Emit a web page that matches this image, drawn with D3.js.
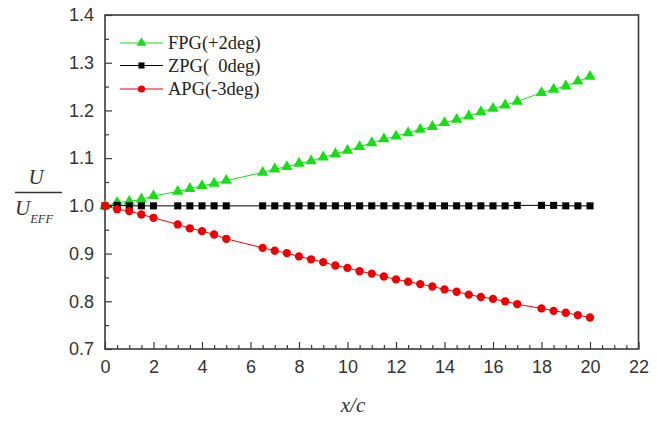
<!DOCTYPE html>
<html>
<head>
<meta charset="utf-8">
<script src="https://cdn.jsdelivr.net/npm/d3@7"></script>
<style>
  html, body { margin: 0; padding: 0; background: #fff; }
  svg { display: block; }
</style>
</head>
<body>
<svg id="chart" width="657" height="421"></svg>
<script>
// ---- data ----
const xValues = [0,0.5,1,1.5,2,3,3.5,4,4.5,5,6.5,7,7.5,8,8.5,9,9.5,10,10.5,11,11.5,12,12.5,13,13.5,14,14.5,15,15.5,16,16.5,17,18,18.5,19,19.5,20];
const fpgValues = [1.000,1.007,1.009,1.014,1.021,1.030,1.036,1.042,1.047,1.053,1.070,1.077,1.082,1.089,1.094,1.102,1.109,1.116,1.124,1.132,1.140,1.146,1.153,1.160,1.166,1.174,1.181,1.188,1.197,1.204,1.211,1.219,1.237,1.244,1.251,1.261,1.271];
const zpgValues = [1.000,1.001,1.000,1.000,1.000,1.000,1.000,1.000,1.000,1.000,1.000,1.000,1.000,1.000,1.000,1.000,1.000,1.000,1.000,1.000,1.000,1.000,1.000,1.000,1.000,1.000,1.000,1.000,1.000,1.000,1.000,1.001,1.001,1.001,1.000,1.000,1.000];
const apgValues = [1.000,0.993,0.989,0.982,0.975,0.961,0.953,0.947,0.940,0.931,0.912,0.906,0.901,0.894,0.888,0.882,0.875,0.870,0.863,0.858,0.852,0.846,0.841,0.836,0.831,0.825,0.820,0.814,0.809,0.805,0.800,0.794,0.785,0.780,0.776,0.771,0.766];
const seriesNames = ["FPG(+2deg)", "ZPG(\u00a0 0deg)", "APG(-3deg)"];
const xTickValues = [0,2,4,6,8,10,12,14,16,18,20,22];
const yTickValues = [0.7,0.8,0.9,1.0,1.1,1.2,1.3,1.4];

// ---- layout ----
const svg = d3.select("#chart");
const mLeft = 105, mRight = 638.5, mTop = 15, mBottom = 349;
const x = d3.scaleLinear().domain([0, 22]).range([mLeft, mRight]);
const y = d3.scaleLinear().domain([0.7, 1.4]).range([mBottom, mTop]);
const axisColor = "#3a3a3a";
const tickFont = "'Liberation Sans', Arial, sans-serif";
const serif = "'Liberation Serif', 'Times New Roman', serif";

// minor ticks
const xMinor = d3.range(0, 22.01, 0.5).filter(v => Math.abs(v/2 - Math.round(v/2)) > 1e-6);
const yMinor = d3.range(0.75, 1.4, 0.1);

const gx = svg.append("g").attr("transform", `translate(0,${mBottom})`);
gx.call(d3.axisBottom(x).tickValues(xTickValues).tickSizeInner(-7).tickSizeOuter(0).tickPadding(11).tickFormat(d3.format("d")));
gx.append("g").call(d3.axisBottom(x).tickValues(xMinor).tickSize(-4).tickFormat(""));

const gy = svg.append("g").attr("transform", `translate(${mLeft},0)`);
gy.call(d3.axisLeft(y).tickValues(yTickValues).tickSizeInner(-7).tickSizeOuter(0).tickPadding(11).tickFormat(d3.format(".1f")));
gy.append("g").call(d3.axisLeft(y).tickValues(yMinor).tickSize(-4).tickFormat(""));

svg.selectAll(".domain").remove();
svg.selectAll(".tick line").attr("stroke", axisColor).attr("stroke-width", 1.2);
svg.selectAll(".tick text").attr("fill", "#333").style("font-family", tickFont).style("font-size", "18px");
// frame
svg.append("rect").attr("x", mLeft).attr("y", mTop).attr("width", mRight - mLeft).attr("height", mBottom - mTop)
  .attr("fill", "none").attr("stroke", axisColor).attr("stroke-width", 1.6);

// ---- series ----
const series = [
  {name: seriesNames[0], values: fpgValues, color: "#14e014", symbol: d3.symbolTriangle, size: 56},
  {name: seriesNames[1], values: zpgValues, color: "#000000", symbol: d3.symbolSquare, size: 50},
  {name: seriesNames[2], values: apgValues, color: "#f00000", symbol: d3.symbolCircle, size: 54}
];
const line = d3.line().x(d => x(d[0])).y(d => y(d[1]));

series.forEach(s => {
  const pts = xValues.map((xv, i) => [xv, s.values[i]]);
  const g = svg.append("g");
  g.append("path").datum(pts).attr("d", line).attr("fill", "none").attr("stroke", s.color).attr("stroke-width", 1);
  g.selectAll("path.pt").data(pts).join("path").attr("class", "pt")
    .attr("transform", d => `translate(${x(d[0])},${y(d[1])})`)
    .attr("d", d3.symbol().type(s.symbol).size(s.size))
    .attr("fill", s.color);
});

// ---- legend ----
const legendRows = [43, 65.5, 89];
series.forEach((s, i) => {
  const ly = legendRows[i];
  svg.append("line").attr("x1", 120).attr("x2", 163).attr("y1", ly).attr("y2", ly).attr("stroke", s.color).attr("stroke-width", 1);
  svg.append("path").attr("transform", `translate(141.5,${ly})`).attr("d", d3.symbol().type(s.symbol).size(s.size * 0.75)).attr("fill", s.color);
  svg.append("text").attr("x", 168).attr("y", ly + 6).text(s.name)
    .style("font-family", serif).style("font-size", "18.5px").attr("fill", "#222");
});

// ---- axis titles ----
svg.append("text").attr("x", 353).attr("y", 412).attr("text-anchor", "middle")
  .style("font-family", serif).style("font-style", "italic").style("font-size", "21px").attr("fill", "#333").text("x/c");

const yl = svg.append("g").attr("fill", "#333").style("font-family", serif).style("font-style", "italic");
yl.append("text").attr("x", 36).attr("y", 184).attr("text-anchor", "middle").style("font-size", "21px").text("U");
yl.append("line").attr("x1", 15).attr("x2", 62).attr("y1", 192.5).attr("y2", 192.5).attr("stroke", "#333").attr("stroke-width", 1.3);
const lower = yl.append("text").attr("x", 15).attr("y", 215).style("font-size", "21px");
lower.append("tspan").text("U");
lower.append("tspan").attr("dy", 8).style("font-size", "12.5px").text("EFF");
</script>
</body>
</html>
